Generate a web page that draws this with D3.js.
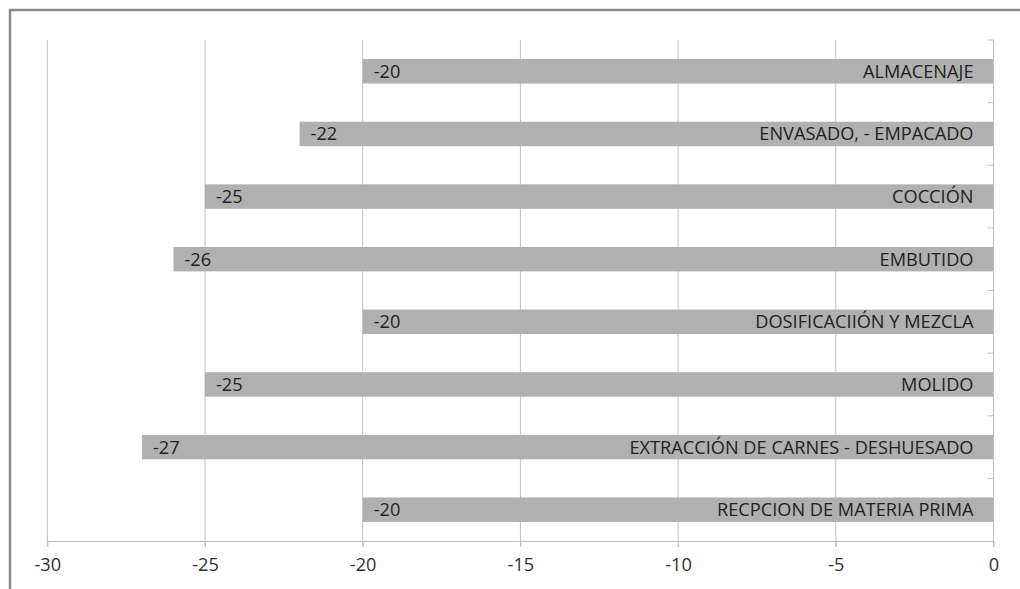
<!DOCTYPE html>
<html>
<head>
<meta charset="utf-8">
<script src="https://cdn.jsdelivr.net/npm/d3@7"></script>
<style>
  html, body { margin: 0; padding: 0; background: #fff; }
  svg { display: block; }
  text { font-family: "Open Sans", "Liberation Sans", sans-serif; }
</style>
</head>
<body>
<script>
// Process stages, bottom to top
const categories = [
  "RECPCION DE MATERIA PRIMA",
  "EXTRACCIÓN DE CARNES - DESHUESADO",
  "MOLIDO",
  "DOSIFICACIIÓN Y MEZCLA",
  "EMBUTIDO",
  "COCCIÓN",
  "ENVASADO, - EMPACADO",
  "ALMACENAJE"
];
const values = [-20, -27, -25, -20, -26, -25, -22, -20];
const xTicks = [-30, -25, -20, -15, -10, -5, 0];

const W = 1020, H = 589;
const margin = { left: 47.3, right: 1020 - 993.5, top: 40, bottom: 589 - 541 };
const fontSize = "18.2px";

const svg = d3.select("body").append("svg")
  .attr("width", W).attr("height", H);

// Outer frame (left and top edges visible)
svg.append("path")
  .attr("d", `M10,${H} L10,10 L${W},10`)
  .attr("fill", "none")
  .attr("stroke", "#8a8a8a")
  .attr("stroke-width", 2.5);

const x = d3.scaleLinear().domain([-30, 0]).range([margin.left, W - margin.right]);
const y = d3.scaleBand()
  .domain(categories.slice().reverse())
  .range([margin.top, H - margin.bottom])
  .paddingInner(0.61).paddingOuter(0.305);

// Vertical gridlines (extend below axis as ticks)
svg.append("g")
  .selectAll("line")
  .data(xTicks.filter(t => t !== 0))
  .join("line")
  .attr("x1", d => x(d)).attr("x2", d => x(d))
  .attr("y1", margin.top).attr("y2", H - margin.bottom + 6)
  .attr("stroke", "#c0c0c0").attr("stroke-width", 1);

// Bars
svg.append("g")
  .selectAll("rect")
  .data(values)
  .join("rect")
  .attr("x", d => x(d))
  .attr("y", (d, i) => y(categories[i]))
  .attr("width", d => x(0) - x(d))
  .attr("height", y.bandwidth())
  .attr("fill", "#b0b0b0");

// Bottom axis
const xAxis = svg.append("g")
  .attr("transform", `translate(0,${H - margin.bottom})`)
  .call(d3.axisBottom(x).tickValues(xTicks).tickSize(6).tickSizeOuter(0).tickPadding(11)
    .tickFormat(d3.format("d")));
xAxis.select(".domain").attr("stroke", "#c0c0c0");
xAxis.selectAll(".tick line").attr("stroke", "#c0c0c0");
xAxis.selectAll(".tick text")
  .attr("fill", "#303030")
  .style("font-size", fontSize)
  .text(d => d < 0 ? "-" + Math.abs(d) : d);

// Right-side category axis with boundary ticks
const bounds = d3.range(categories.length + 1).map(i => margin.top + i * ((H - margin.bottom - margin.top) / categories.length));
svg.append("line")
  .attr("x1", x(0)).attr("x2", x(0))
  .attr("y1", margin.top).attr("y2", H - margin.bottom + 6)
  .attr("stroke", "#c0c0c0");
svg.append("g")
  .selectAll("line")
  .data(bounds.slice(0, -1))
  .join("line")
  .attr("x1", x(0) - 6).attr("x2", x(0))
  .attr("y1", d => d).attr("y2", d => d)
  .attr("stroke", "#c0c0c0");

// Value labels at the left end of each bar
svg.append("g")
  .selectAll("text")
  .data(values)
  .join("text")
  .attr("x", d => x(d) + 11)
  .attr("y", (d, i) => y(categories[i]) + y.bandwidth() / 2)
  .attr("dy", "0.36em")
  .attr("fill", "#222")
  .style("font-size", fontSize)
  .text(d => "-" + Math.abs(d));

// Category labels at the right end of each bar
svg.append("g")
  .selectAll("text")
  .data(categories)
  .join("text")
  .attr("x", x(0) - 20)
  .attr("y", d => y(d) + y.bandwidth() / 2)
  .attr("dy", "0.36em")
  .attr("text-anchor", "end")
  .attr("fill", "#222")
  .style("font-size", fontSize)
  .text(d => d);
</script>
</body>
</html>
